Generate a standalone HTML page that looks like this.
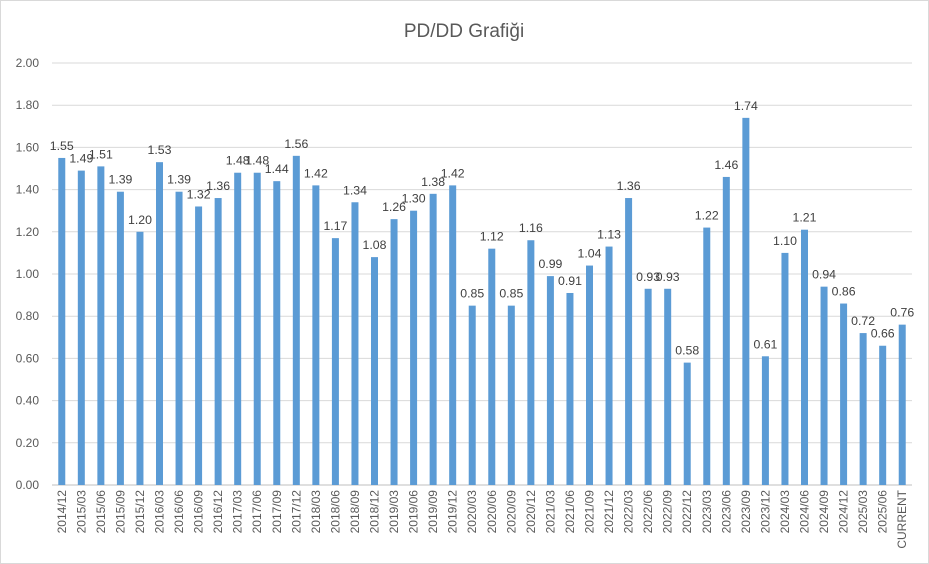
<!DOCTYPE html>
<html><head><meta charset="utf-8"><style>
body{margin:0;background:#fff}
svg{display:block;font-family:"Liberation Sans",Arial,sans-serif}
</style></head><body>
<svg id="s" width="929" height="564" xmlns="http://www.w3.org/2000/svg">
<rect x="0.5" y="0.5" width="928" height="563" fill="#fff" stroke="#d9d9d9"/>
<text x="464" y="37" text-anchor="middle" font-size="19" fill="#595959">PD/DD Grafiği</text>
<g id="g"></g>
</svg>
<script>
(function(){
var v=[1.55,1.49,1.51,1.39,1.20,1.53,1.39,1.32,1.36,1.48,1.48,1.44,1.56,1.42,1.17,1.34,1.08,1.26,1.30,1.38,1.42,0.85,1.12,0.85,1.16,0.99,0.91,1.04,1.13,1.36,0.93,0.93,0.58,1.22,1.46,1.74,0.61,1.10,1.21,0.94,0.86,0.72,0.66,0.76];
var lab=[];var yr=2014,q=12;lab.push("2014/12");
for(var i=0;i<42;i++){q+=3;if(q>12){q=3;yr++;}lab.push(yr+"/"+(q<10?"0"+q:q));}
lab.push("CURRENT");
var L=52,R=912,T=63,B=485,h="";
for(var k=0;k<=10;k++){var yy=B-(B-T)*k/10;
h+='<line x1="'+L+'" x2="'+R+'" y1="'+yy+'" y2="'+yy+'" stroke="'+(k==0?'#bfbfbf':'#d9d9d9')+'"/>';
h+='<text x="'+(L-13)+'" y="'+(yy+4)+'" text-anchor="end" font-size="12" fill="#595959">'+(k*0.2).toFixed(2)+'</text>';}
var w=(R-L)/44;
for(var i=0;i<44;i++){var cx=L+w*(i+0.5),ty=B-(B-T)*v[i]/2;
h+='<rect x="'+(cx-3.5)+'" y="'+ty+'" width="7" height="'+(B-ty)+'" fill="#5b9bd5"/>';
h+='<text x="'+cx+'" y="'+(ty-8)+'" text-anchor="middle" font-size="12.3" fill="#404040">'+v[i].toFixed(2)+'</text>';
h+='<text transform="translate('+(cx+4)+',490) rotate(-90)" text-anchor="end" font-size="12" fill="#595959">'+lab[i]+'</text>';}
document.getElementById("g").innerHTML=h;
})();
</script>
</body></html>
